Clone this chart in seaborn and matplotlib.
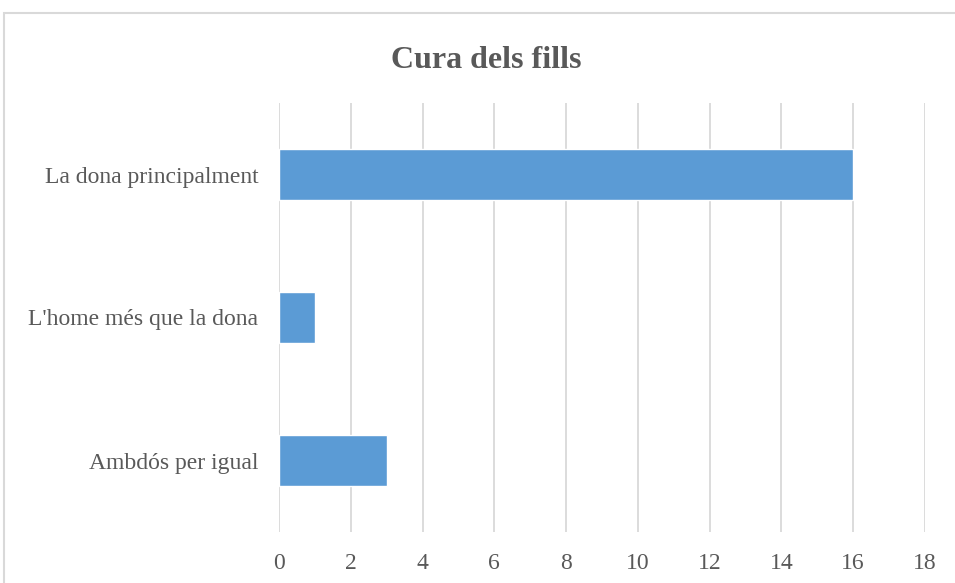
import pandas as pd
import seaborn as sns
import matplotlib.pyplot as plt
from matplotlib.patches import Rectangle

categories = ["La dona principalment", "L'home més que la dona", "Ambdós per igual"]
values = [16, 1, 3]
x_ticks = [0, 2, 4, 6, 8, 10, 12, 14, 16, 18]
title = "Cura dels fills"

TEXT = "#595959"
GRID = "#D9D9D9"
BAR = "#5B9BD5"

sns.set_style("white")
plt.rcParams["font.family"] = ["Liberation Serif", "DejaVu Serif"]

df = pd.DataFrame({"cat": categories, "val": values})

fig = plt.figure(figsize=(9.55, 5.83), dpi=100)
ax = fig.add_axes([279 / 955, 1 - 532 / 583, 646 / 955, 429 / 583])

sns.barplot(data=df, x="val", y="cat", orient="h", color=BAR, width=0.35,
            saturation=1, ax=ax, zorder=3)

ax.set_xlim(0, 18)
ax.set_ylim(2.5, -0.5)
ax.set_xticks(x_ticks)
ax.set_xlabel("")
ax.set_ylabel("")
ax.grid(axis="x", color=GRID, linewidth=1.3, zorder=0)
ax.grid(axis="y", visible=False)
for s in ax.spines.values():
    s.set_visible(False)
ax.tick_params(axis="x", length=0, pad=15, labelsize=17, labelcolor=TEXT)
ax.tick_params(axis="y", length=0, pad=15, labelsize=17, labelcolor=TEXT)

fig.text(486 / 955, 1 - 60 / 583, title, ha="center", va="center",
         fontsize=23, fontweight="bold", color=TEXT)

# chart area border (cropped at right and bottom)
fig.patches.append(Rectangle((4 / 955, -0.1), 1.2, (583 - 13) / 583 + 0.1,
                             transform=fig.transFigure, fill=False,
                             edgecolor=GRID, linewidth=1.5))

fig.savefig("out.png", dpi=100)
